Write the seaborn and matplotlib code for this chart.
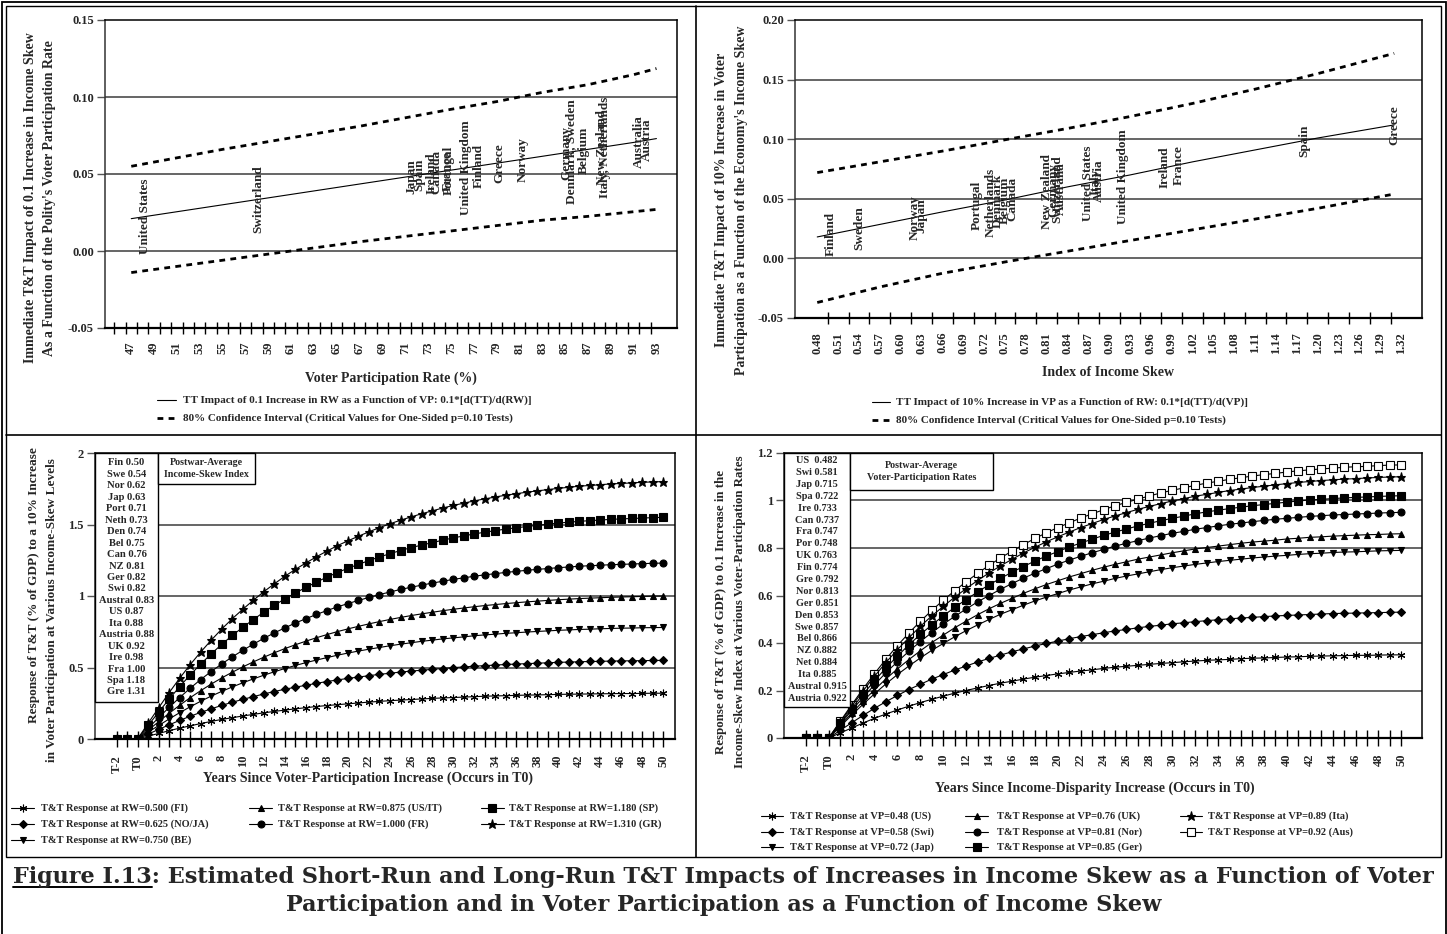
import numpy as np
import matplotlib
matplotlib.use("Agg")
import matplotlib.pyplot as plt
import seaborn as sns
from matplotlib.lines import Line2D
from matplotlib.patches import Rectangle

# ---------------------------------------------------------------- data
# Top-left: immediate T&T impact of a 0.1 rise in income skew vs. voter participation
vp_grid = [47, 51, 55, 59, 63, 67, 71, 75, 79, 83, 87, 91, 93]
vp_effect = [0.021, 0.0255, 0.030, 0.0345, 0.039, 0.0435, 0.048, 0.0525, 0.057, 0.0615, 0.066, 0.0705, 0.073]
vp_upper = [0.055, 0.0605, 0.066, 0.071, 0.076, 0.081, 0.0865, 0.092, 0.097, 0.103, 0.108, 0.1145, 0.1185]
vp_lower = [-0.014, -0.010, -0.006, -0.002, 0.002, 0.006, 0.0095, 0.013, 0.0165, 0.020, 0.0225, 0.0255, 0.027]
vp_label_names = ["United States", "Switzerland", "Japan", "Spain", "Ireland", "Canada", "France",
                  "Portugal", "United Kingdom", "Finland", "Greece", "Norway", "Germany",
                  "Denmark, Sweden", "Belgium", "New Zealand", "Italy, Netherlands", "Australia", "Austria"]
vp_label_pos = [48.2, 58.1, 71.5, 72.2, 73.3, 73.7, 74.7, 74.8, 76.3, 77.4, 79.2, 81.3, 85.1,
                85.5, 86.6, 88.2, 88.45, 91.5, 92.2]

# Top-right: immediate T&T impact of a 10% rise in voter participation vs. income skew
rw_grid = [0.48, 0.57, 0.66, 0.75, 0.84, 0.93, 1.02, 1.11, 1.20, 1.31]
rw_effect = [0.018, 0.0285, 0.039, 0.049, 0.060, 0.070, 0.081, 0.091, 0.101, 0.112]
rw_upper = [0.072, 0.081, 0.090, 0.0995, 0.109, 0.119, 0.130, 0.142, 0.155, 0.172]
rw_lower = [-0.037, -0.024, -0.0125, -0.003, 0.006, 0.015, 0.024, 0.033, 0.042, 0.054]
rw_label_names = ["Finland", "Sweden", "Norway", "Japan", "Portugal", "Netherlands", "Denmark",
                  "Belgium", "Canada", "New Zealand", "Germany", "Switzerland", "Australia",
                  "United States", "Italy", "Austria", "United Kingdom", "Ireland", "France",
                  "Spain", "Greece"]
rw_label_pos = [0.50, 0.54, 0.62, 0.63, 0.71, 0.73, 0.74, 0.75, 0.76, 0.81, 0.82, 0.825, 0.83,
                0.87, 0.88, 0.885, 0.92, 0.98, 1.00, 1.18, 1.31]

# Postwar averages listed in the boxes
skew_box = ["Fin 0.50", "Swe 0.54", "Nor 0.62", "Jap 0.63", "Port 0.71", "Neth 0.73", "Den 0.74",
            "Bel 0.75", "Can 0.76", "NZ 0.81", "Ger 0.82", "Swi 0.82", "Austral 0.83", "US 0.87",
            "Ita 0.88", "Austria 0.88", "UK 0.92", "Ire 0.98", "Fra 1.00", "Spa 1.18", "Gre 1.31"]
vp_box = ["US  0.482", "Swi 0.581", "Jap 0.715", "Spa 0.722", "Ire 0.733", "Can 0.737", "Fra 0.747",
          "Por 0.748", "UK 0.763", "Fin 0.774", "Gre 0.792", "Nor 0.813", "Ger 0.851", "Den 0.853",
          "Swe 0.857", "Bel 0.866", "NZ 0.882", "Net 0.884", "Ita 0.885", "Austral 0.915",
          "Austria 0.922"]

# Dynamic responses, periods T-2 .. 50
years = ["T-2", "T-1", "T0"] + [str(y) for y in range(1, 51)]
pre = [0.0, 0.0, 0.0]

rw_fi = pre + [0.020, 0.039, 0.058, 0.076, 0.092, 0.108, 0.123, 0.137, 0.149, 0.161,
               0.172, 0.183, 0.193, 0.202, 0.211, 0.219, 0.227, 0.234, 0.240, 0.246,
               0.252, 0.258, 0.263, 0.268, 0.272, 0.276, 0.280, 0.284, 0.287, 0.290,
               0.293, 0.296, 0.299, 0.301, 0.303, 0.305, 0.307, 0.308, 0.310, 0.312,
               0.313, 0.314, 0.315, 0.316, 0.317, 0.318, 0.318, 0.319, 0.320, 0.320]
rw_noja = pre + [0.034, 0.067, 0.099, 0.130, 0.159, 0.186, 0.211, 0.235, 0.257, 0.277,
                 0.296, 0.315, 0.332, 0.348, 0.362, 0.376, 0.389, 0.402, 0.413, 0.424,
                 0.433, 0.443, 0.452, 0.460, 0.468, 0.475, 0.481, 0.487, 0.493, 0.499,
                 0.504, 0.509, 0.513, 0.517, 0.521, 0.524, 0.527, 0.530, 0.533, 0.536,
                 0.538, 0.540, 0.542, 0.543, 0.545, 0.546, 0.547, 0.548, 0.549, 0.550]
rw_be = pre + [0.048, 0.094, 0.140, 0.184, 0.225, 0.264, 0.300, 0.333, 0.364, 0.393,
               0.420, 0.446, 0.470, 0.493, 0.514, 0.534, 0.552, 0.569, 0.586, 0.601,
               0.615, 0.628, 0.640, 0.652, 0.663, 0.673, 0.683, 0.691, 0.700, 0.707,
               0.714, 0.722, 0.728, 0.733, 0.739, 0.743, 0.748, 0.752, 0.756, 0.760,
               0.763, 0.766, 0.768, 0.771, 0.773, 0.775, 0.776, 0.778, 0.779, 0.780]
rw_usit = pre + [0.061, 0.121, 0.180, 0.236, 0.289, 0.338, 0.384, 0.427, 0.467, 0.504,
                 0.539, 0.572, 0.603, 0.632, 0.659, 0.684, 0.708, 0.730, 0.751, 0.770,
                 0.788, 0.805, 0.821, 0.836, 0.850, 0.863, 0.875, 0.886, 0.897, 0.907,
                 0.916, 0.925, 0.933, 0.940, 0.947, 0.953, 0.959, 0.964, 0.969, 0.974,
                 0.978, 0.982, 0.985, 0.988, 0.991, 0.993, 0.995, 0.997, 0.999, 1.000]
rw_fr = pre + [0.075, 0.149, 0.221, 0.290, 0.355, 0.416, 0.472, 0.525, 0.574, 0.620,
               0.663, 0.704, 0.742, 0.777, 0.811, 0.841, 0.871, 0.898, 0.924, 0.947,
               0.969, 0.990, 1.010, 1.028, 1.046, 1.061, 1.076, 1.090, 1.103, 1.116,
               1.127, 1.138, 1.148, 1.156, 1.165, 1.172, 1.180, 1.186, 1.192, 1.198,
               1.203, 1.208, 1.212, 1.215, 1.219, 1.221, 1.224, 1.226, 1.229, 1.230]
rw_sp = pre + [0.095, 0.188, 0.279, 0.366, 0.448, 0.524, 0.595, 0.662, 0.724, 0.781,
               0.835, 0.887, 0.935, 0.980, 1.021, 1.060, 1.097, 1.132, 1.164, 1.194,
               1.221, 1.248, 1.273, 1.296, 1.318, 1.338, 1.356, 1.373, 1.390, 1.406,
               1.420, 1.434, 1.446, 1.457, 1.468, 1.477, 1.486, 1.494, 1.502, 1.510,
               1.516, 1.522, 1.527, 1.531, 1.536, 1.539, 1.542, 1.545, 1.548, 1.550]
rw_gr = pre + [0.110, 0.218, 0.324, 0.425, 0.520, 0.608, 0.691, 0.769, 0.841, 0.907,
               0.970, 1.030, 1.085, 1.138, 1.186, 1.231, 1.274, 1.314, 1.352, 1.386,
               1.418, 1.449, 1.478, 1.505, 1.530, 1.553, 1.575, 1.595, 1.615, 1.633,
               1.649, 1.665, 1.679, 1.692, 1.705, 1.715, 1.726, 1.735, 1.744, 1.753,
               1.760, 1.768, 1.773, 1.778, 1.784, 1.787, 1.791, 1.795, 1.798, 1.800]

vp_us = pre + [0.021, 0.042, 0.063, 0.083, 0.101, 0.118, 0.134, 0.149, 0.163, 0.176,
               0.189, 0.200, 0.211, 0.221, 0.231, 0.239, 0.248, 0.256, 0.263, 0.270,
               0.276, 0.282, 0.287, 0.293, 0.298, 0.302, 0.306, 0.310, 0.314, 0.317,
               0.321, 0.324, 0.327, 0.329, 0.331, 0.334, 0.336, 0.337, 0.339, 0.341,
               0.342, 0.344, 0.345, 0.346, 0.347, 0.348, 0.348, 0.349, 0.350, 0.350]
vp_swi = pre + [0.032, 0.064, 0.095, 0.125, 0.153, 0.179, 0.204, 0.226, 0.248, 0.267,
                0.286, 0.303, 0.320, 0.335, 0.349, 0.363, 0.375, 0.387, 0.398, 0.408,
                0.418, 0.427, 0.435, 0.443, 0.451, 0.457, 0.464, 0.470, 0.475, 0.481,
                0.485, 0.490, 0.494, 0.498, 0.502, 0.505, 0.508, 0.511, 0.514, 0.516,
                0.518, 0.520, 0.522, 0.524, 0.525, 0.526, 0.527, 0.528, 0.529, 0.530]
vp_jap = pre + [0.048, 0.096, 0.142, 0.186, 0.228, 0.267, 0.303, 0.337, 0.369, 0.398,
                0.426, 0.452, 0.476, 0.499, 0.521, 0.540, 0.559, 0.577, 0.593, 0.608,
                0.623, 0.636, 0.649, 0.660, 0.672, 0.682, 0.691, 0.700, 0.709, 0.717,
                0.724, 0.731, 0.737, 0.743, 0.748, 0.753, 0.758, 0.762, 0.766, 0.769,
                0.773, 0.776, 0.778, 0.781, 0.783, 0.784, 0.786, 0.788, 0.789, 0.790]
vp_uk = pre + [0.052, 0.104, 0.155, 0.203, 0.249, 0.291, 0.330, 0.367, 0.402, 0.433,
               0.464, 0.492, 0.519, 0.544, 0.567, 0.588, 0.609, 0.628, 0.646, 0.662,
               0.678, 0.692, 0.706, 0.719, 0.731, 0.742, 0.753, 0.762, 0.771, 0.780,
               0.788, 0.796, 0.802, 0.808, 0.814, 0.820, 0.825, 0.829, 0.833, 0.838,
               0.841, 0.845, 0.847, 0.850, 0.852, 0.854, 0.856, 0.857, 0.859, 0.860]
vp_nor = pre + [0.058, 0.115, 0.171, 0.224, 0.275, 0.321, 0.365, 0.406, 0.444, 0.479,
                0.512, 0.543, 0.573, 0.600, 0.626, 0.650, 0.673, 0.694, 0.713, 0.732,
                0.749, 0.765, 0.780, 0.794, 0.808, 0.820, 0.831, 0.842, 0.852, 0.862,
                0.870, 0.879, 0.886, 0.893, 0.900, 0.905, 0.911, 0.916, 0.921, 0.925,
                0.929, 0.933, 0.936, 0.939, 0.941, 0.943, 0.945, 0.947, 0.949, 0.950]
vp_ger = pre + [0.062, 0.123, 0.184, 0.241, 0.295, 0.345, 0.392, 0.436, 0.476, 0.514,
                0.550, 0.583, 0.615, 0.645, 0.672, 0.698, 0.722, 0.745, 0.766, 0.785,
                0.804, 0.821, 0.837, 0.853, 0.867, 0.880, 0.893, 0.904, 0.915, 0.925,
                0.934, 0.944, 0.952, 0.959, 0.966, 0.972, 0.978, 0.983, 0.988, 0.993,
                0.998, 1.002, 1.005, 1.008, 1.011, 1.013, 1.015, 1.017, 1.019, 1.020]
vp_ita = pre + [0.067, 0.133, 0.198, 0.260, 0.318, 0.372, 0.422, 0.470, 0.514, 0.554,
                0.593, 0.629, 0.663, 0.695, 0.725, 0.752, 0.779, 0.803, 0.826, 0.847,
                0.867, 0.886, 0.903, 0.920, 0.935, 0.949, 0.963, 0.975, 0.987, 0.998,
                1.008, 1.018, 1.026, 1.034, 1.042, 1.048, 1.055, 1.060, 1.066, 1.071,
                1.076, 1.080, 1.084, 1.087, 1.090, 1.092, 1.095, 1.097, 1.099, 1.100]
vp_aus = pre + [0.070, 0.139, 0.207, 0.271, 0.332, 0.389, 0.442, 0.491, 0.537, 0.580,
                0.620, 0.658, 0.693, 0.727, 0.758, 0.787, 0.814, 0.840, 0.864, 0.886,
                0.906, 0.926, 0.944, 0.961, 0.978, 0.992, 1.006, 1.019, 1.032, 1.043,
                1.053, 1.064, 1.073, 1.081, 1.089, 1.096, 1.103, 1.109, 1.114, 1.120,
                1.125, 1.129, 1.133, 1.136, 1.140, 1.142, 1.144, 1.147, 1.149, 1.150]

rw_labels = ["T&T Response at RW=0.500 (FI)", "T&T Response at RW=0.625 (NO/JA)",
             "T&T Response at RW=0.750 (BE)", "T&T Response at RW=0.875 (US/IT)",
             "T&T Response at RW=1.000 (FR)", "T&T Response at RW=1.180 (SP)",
             "T&T Response at RW=1.310 (GR)"]
vp_labels = ["T&T Response at VP=0.48 (US)", "T&T Response at VP=0.58 (Swi)",
             "T&T Response at VP=0.72 (Jap)", "T&T Response at VP=0.76 (UK)",
             "T&T Response at VP=0.81 (Nor)", "T&T Response at VP=0.85 (Ger)",
             "T&T Response at VP=0.89 (Ita)", "T&T Response at VP=0.92 (Aus)"]

# ---------------------------------------------------------------- figure setup
W, H = 1447, 934
sns.set_theme(style="white")
plt.rcParams["font.family"] = ["Liberation Serif", "DejaVu Serif"]
plt.rcParams["font.weight"] = "bold"
plt.rcParams["axes.labelweight"] = "bold"

fig = plt.figure(figsize=(W / 100, H / 100), dpi=100)
fig.patch.set_facecolor("white")


def fx(px):
    return px / W


def fy(py):
    return 1 - py / H


def axes_px(x0, y0, x1, y1):
    return fig.add_axes([fx(x0), fy(y1), (x1 - x0) / W, (y1 - y0) / H])


def rect_px(x0, y0, x1, y1, lw=1.0, fill=False, z=2):
    r = Rectangle((fx(x0), fy(y1)), (x1 - x0) / W, (y1 - y0) / H, transform=fig.transFigure,
                  facecolor="white" if fill else "none", edgecolor="black", lw=lw,
                  fill=fill, zorder=z)
    fig.add_artist(r)


def hline_px(x0, x1, y, lw=1.0):
    fig.add_artist(Line2D([fx(x0), fx(x1)], [fy(y), fy(y)], transform=fig.transFigure,
                          color="black", lw=lw, zorder=2))


def vline_px(x, y0, y1, lw=1.0):
    fig.add_artist(Line2D([fx(x), fx(x)], [fy(y0), fy(y1)], transform=fig.transFigure,
                          color="black", lw=lw, zorder=2))


def style_frame(ax):
    for side, s in ax.spines.items():
        s.set_visible(True)
        s.set_color("black")
        s.set_linewidth(1.1)
    ax.spines["bottom"].set_linewidth(1.6)
    ax.spines["left"].set_color("#333333")
    ax.tick_params(axis="y", which="both", direction="out", length=6, width=1.0,
                   color="#555555", labelsize=9, pad=2, left=True)
    ax.set_facecolor("white")
    ax.grid(False)


def grid_lines(ax, values):
    for v in values:
        ax.axhline(v, color="#3c3c3c", lw=1.1, zorder=1)


DASH = (0, (2.1, 1.9))

# ---------------------------------------------------------------- top panels


def top_panel(ax, x, eff, up, lo, names, pos):
    sns.lineplot(x=x, y=eff, ax=ax, color="black", lw=0.8, estimator=None, sort=False,
                 legend=False, zorder=3)
    for band in (up, lo):
        sns.lineplot(x=x, y=band, ax=ax, color="black", lw=2.0, linestyle=DASH,
                     estimator=None, sort=False, legend=False, zorder=3)
    for name, p in zip(names, pos):
        ax.text(p, np.interp(p, x, eff), name, rotation=90, ha="center", va="center",
                fontsize=9.5, fontweight="bold", zorder=4)
    ax.set_xlabel("")
    ax.set_ylabel("")


ax_tl = axes_px(105, 20, 677, 328)
style_frame(ax_tl)
grid_lines(ax_tl, [0.0, 0.05, 0.10])
top_panel(ax_tl, vp_grid, vp_effect, vp_upper, vp_lower, vp_label_names, vp_label_pos)
ax_tl.set_xlim(44.7, 94.8)
ax_tl.set_ylim(-0.05, 0.15)
ax_tl.set_yticks([-0.05, 0.0, 0.05, 0.10, 0.15])
ax_tl.set_yticklabels(["-0.05", "0.00", "0.05", "0.10", "0.15"])
ax_tl.set_xticks(list(range(47, 94, 2)))
ax_tl.set_xticklabels([str(v) for v in range(47, 94, 2)], rotation=90)
ax_tl.set_xticks([v + 0.5 for v in range(45, 93)], minor=True)
ax_tl.tick_params(axis="x", which="major", length=0, pad=10, labelsize=9, bottom=True)
ax_tl.tick_params(axis="x", which="minor", direction="inout", length=9, width=1.0,
                  color="black", bottom=True)

ax_tr = axes_px(795, 20, 1422, 318)
style_frame(ax_tr)
grid_lines(ax_tr, [0.0, 0.05, 0.10, 0.15])
top_panel(ax_tr, rw_grid, rw_effect, rw_upper, rw_lower, rw_label_names, rw_label_pos)
ax_tr.set_xlim(0.448, 1.35)
ax_tr.set_ylim(-0.05, 0.20)
ax_tr.set_yticks([-0.05, 0.0, 0.05, 0.10, 0.15, 0.20])
ax_tr.set_yticklabels(["-0.05", "0.00", "0.05", "0.10", "0.15", "0.20"])
tr_major = [0.48 + 0.03 * k for k in range(29)]
ax_tr.set_xticks(tr_major)
ax_tr.set_xticklabels([f"{v:.2f}" for v in tr_major], rotation=90)
ax_tr.set_xticks([0.48 + 0.015 * k for k in range(57)], minor=True)
ax_tr.tick_params(axis="x", which="major", length=0, pad=10, labelsize=9, bottom=True)
ax_tr.tick_params(axis="x", which="minor", direction="inout", length=9, width=1.0,
                  color="black", bottom=True)

# ---------------------------------------------------------------- bottom panels
idx = list(range(len(years)))

rw_series = [rw_fi, rw_noja, rw_be, rw_usit, rw_fr, rw_sp, rw_gr]
rw_styles = [((6, 2, 0), 5.5, "black"), ("D", 3.6, "black"), ("v", 5.0, "black"),
             ("^", 5.0, "black"), ("o", 5.0, "black"), ("s", 5.2, "black"),
             ("*", 6.5, "black")]
vp_series = [vp_us, vp_swi, vp_jap, vp_uk, vp_nor, vp_ger, vp_ita, vp_aus]
vp_styles = [((6, 2, 0), 5.5, "black"), ("D", 3.6, "black"), ("v", 5.0, "black"),
             ("^", 5.0, "black"), ("o", 5.0, "black"), ("s", 5.2, "black"),
             ("*", 6.5, "black"), ("s", 5.2, "white")]


def bottom_panel(ax, series, styles):
    # drawn from the highest curve down so the filled markers sit on top at T-2..T0
    for vals, (mk, ms, mfc) in list(zip(series, styles))[::-1]:
        sns.lineplot(x=idx, y=vals, ax=ax, color="black", lw=0.8, marker=mk, markersize=ms,
                     markerfacecolor=mfc, markeredgecolor="black", markeredgewidth=0.8,
                     estimator=None, sort=False, legend=False, zorder=3)
    ax.set_xticks(idx)
    ax.set_xticklabels([y if i % 2 == 0 else "" for i, y in enumerate(years)], rotation=90)
    ax.tick_params(axis="x", which="major", direction="inout", length=11, width=1.0,
                   color="black", pad=6, labelsize=9, bottom=True)
    ax.set_xlabel("")
    ax.set_ylabel("")


ax_bl = axes_px(95, 453, 675, 739)
style_frame(ax_bl)
grid_lines(ax_bl, [0.5, 1.0, 1.5])
bottom_panel(ax_bl, rw_series, rw_styles)
ax_bl.set_xlim(-2.05, 53.1)
ax_bl.set_ylim(0, 2)
ax_bl.set_yticks([0, 0.5, 1, 1.5, 2])
ax_bl.set_yticklabels(["0", "0.5", "1", "1.5", "2"])

ax_br = axes_px(784, 453, 1422, 738)
style_frame(ax_br)
grid_lines(ax_br, [0.2, 0.4, 0.6, 0.8, 1.0])
bottom_panel(ax_br, vp_series, vp_styles)
ax_br.set_xlim(-1.9, 53.8)
ax_br.set_ylim(0, 1.2)
ax_br.set_yticks([0, 0.2, 0.4, 0.6, 0.8, 1.0, 1.2])
ax_br.set_yticklabels(["0", "0.2", "0.4", "0.6", "0.8", "1", "1.2"])

# ---------------------------------------------------------------- boxes inside the bottom panels
rect_px(95, 453, 158, 702, lw=1.0, fill=True, z=2)
for k, s in enumerate(skew_box):
    fig.text(fx(126.5), fy(463 + k * 11.45), s, ha="center", va="center", fontsize=7.6,
             fontweight="bold", zorder=3)
rect_px(158, 453, 255, 484, lw=1.0, fill=True, z=2)
fig.text(fx(206.5), fy(468.5), "Postwar-Average\nIncome-Skew Index", ha="center", va="center",
         fontsize=7.2, fontweight="bold", linespacing=1.3, zorder=3)

rect_px(784, 453, 850, 707, lw=1.0, fill=True, z=2)
for k, s in enumerate(vp_box):
    fig.text(fx(817), fy(460.7 + k * 11.88), s, ha="center", va="center", fontsize=7.4,
             fontweight="bold", zorder=3)
rect_px(850, 453, 993, 490, lw=1.0, fill=True, z=2)
fig.text(fx(921.5), fy(471.5), "Postwar-Average\nVoter-Participation Rates", ha="center",
         va="center", fontsize=7.2, fontweight="bold", linespacing=1.3, zorder=3)

# ---------------------------------------------------------------- axis titles
def ytitle(x, yc, text, fs):
    fig.text(fx(x), fy(yc), text, rotation=90, ha="center", va="center", fontsize=fs,
             fontweight="bold")


ytitle(31, 198, "Immediate T&T Impact of 0.1 Increase in Income Skew", 10)
ytitle(50, 198, "As a Function of the Polity's Voter Participation Rate", 10)
ytitle(722, 200, "Immediate T&T Impact of 10% Increase in Voter", 10)
ytitle(741, 200, "Participation as a Function of the Economy's Income Skew", 10)
ytitle(34, 585, "Response of T&T (% of GDP) to a 10% Increase", 9.5)
ytitle(52, 610, "in Voter Participation at Various Income-Skew Levels", 9.5)
ytitle(721, 612, "Response of T&T (% of GDP) to 0.1 Increase in the", 9.3)
ytitle(740, 612, "Income-Skew Index at Various Voter-Participation Rates", 9.3)

fig.text(fx(391), fy(378), "Voter Participation Rate (%)", ha="center", va="center",
         fontsize=10, fontweight="bold")
fig.text(fx(1108), fy(372), "Index of Income Skew", ha="center", va="center",
         fontsize=10, fontweight="bold")
fig.text(fx(368), fy(778), "Years Since Voter-Participation Increase (Occurs in T0)",
         ha="center", va="center", fontsize=10, fontweight="bold")
fig.text(fx(1095), fy(788), "Years Since Income-Disparity Increase (Occurs in T0)",
         ha="center", va="center", fontsize=10, fontweight="bold")

# ---------------------------------------------------------------- legends
def legend_entry(x0, x1, xt, y, text, marker=None, ms=5, mfc="black", ls="-", lw=0.8, fs=7.5):
    mid = (x0 + x1) / 2
    ln = Line2D([fx(x0), fx(mid), fx(x1)], [fy(y)] * 3, transform=fig.transFigure,
                color="black", lw=lw, linestyle=ls, marker=marker, markevery=[1],
                markersize=ms, markerfacecolor=mfc, markeredgecolor="black",
                markeredgewidth=0.8, zorder=3)
    fig.add_artist(ln)
    fig.text(fx(xt), fy(y), text, ha="left", va="center", fontsize=fs, fontweight="bold")


legend_entry(157, 176, 183, 400, "TT Impact of 0.1 Increase in RW as a Function of VP: 0.1*[d(TT)/d(RW)]", fs=8)
legend_entry(157, 176, 183, 418, "80% Confidence Interval (Critical Values for One-Sided p=0.10 Tests)",
             ls=DASH, lw=2.0, fs=8)
legend_entry(872, 890, 896, 402, "TT Impact of 10% Increase in VP as a Function of RW: 0.1*[d(TT)/d(VP)]", fs=8)
legend_entry(872, 890, 896, 420, "80% Confidence Interval (Critical Values for One-Sided p=0.10 Tests)",
             ls=DASH, lw=2.0, fs=8)

bl_rows = [808, 824, 840]
bl_cols = [(11, 34, 41), (249, 272, 278), (481, 504, 509)]
bl_slots = [(0, 0), (0, 1), (0, 2), (1, 0), (1, 1), (2, 0), (2, 1)]
for (c, r), lab, (mk, ms, mfc) in zip(bl_slots, rw_labels, rw_styles):
    x0, x1, xt = bl_cols[c]
    legend_entry(x0, x1, xt, bl_rows[r], lab, marker=mk, ms=ms, mfc=mfc)

br_rows = [816, 832, 847]
br_cols = [(761, 783, 790), (965, 988, 997), (1180, 1202, 1208)]
br_slots = [(0, 0), (0, 1), (0, 2), (1, 0), (1, 1), (1, 2), (2, 0), (2, 1)]
for (c, r), lab, (mk, ms, mfc) in zip(br_slots, vp_labels, vp_styles):
    x0, x1, xt = br_cols[c]
    legend_entry(x0, x1, xt, br_rows[r], lab, marker=mk, ms=ms, mfc=mfc)

# ---------------------------------------------------------------- panel borders
PANEL_BOTTOM = 857
rect_px(1.5, 1.5, 1445.5, 945, lw=1.3)
rect_px(6, 6, 1441, PANEL_BOTTOM, lw=1.0)
vline_px(696, 6, PANEL_BOTTOM, lw=1.2)
hline_px(6, 1441, 435, lw=1.2)

# ---------------------------------------------------------------- caption
cap_1 = ("Figure I.13: Estimated Short-Run and Long-Run T&T Impacts of Increases in Income Skew "
         "as a Function of Voter")
cap_2 = "Participation and in Voter Participation as a Function of Income Skew"
cap_font = dict(family=["DejaVu Serif"], fontweight="bold")
renderer = fig.canvas.get_renderer()
cap_fs = 15.0
t1 = fig.text(0.5, fy(883), cap_1, ha="center", va="baseline", fontsize=cap_fs, **cap_font)
width = t1.get_window_extent(renderer).width
cap_fs = cap_fs * 1433 / width
t1.set_fontsize(cap_fs)
fig.text(0.5, fy(911), cap_2, ha="center", va="baseline", fontsize=cap_fs, **cap_font)
bb = t1.get_window_extent(renderer)
probe = fig.text(0, 0, "Figure I.13", fontsize=cap_fs, **cap_font)
pw = probe.get_window_extent(renderer).width
probe.remove()
fig.add_artist(Line2D([bb.x0 / W, (bb.x0 + pw) / W], [fy(886.5)] * 2,
                      transform=fig.transFigure, color="black", lw=1.4))

fig.savefig("out.png", dpi=100)
